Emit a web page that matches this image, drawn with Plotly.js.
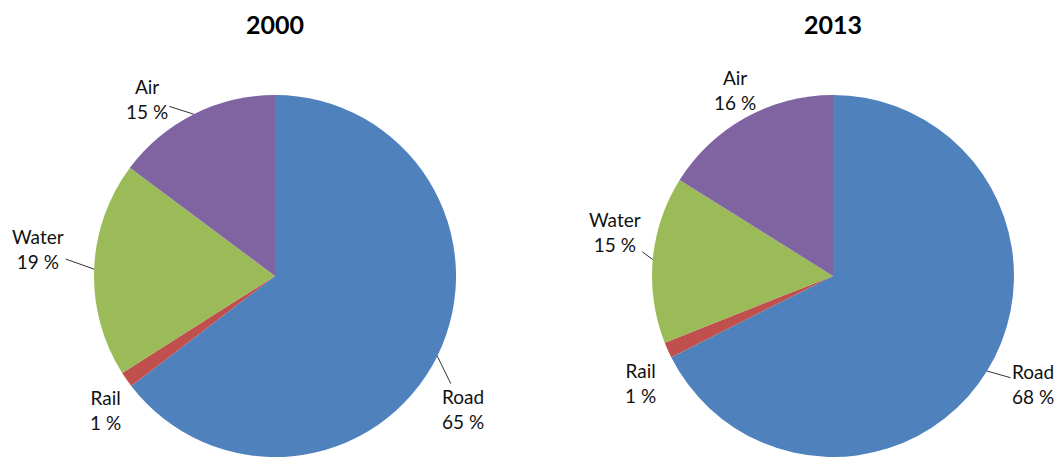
<!DOCTYPE html>
<html>
<head>
<meta charset="utf-8">
<script src="https://cdn.plot.ly/plotly-3.0.1.min.js"></script>
<style>html,body{margin:0;padding:0;background:#fff;}#chart{width:1056px;height:457px;}</style>
</head>
<body>
<div id="chart"></div>
<script>
// ---- data ----
const categories = ['Road', 'Rail', 'Water', 'Air'];
const years = ['2000', '2013'];
const share2000 = [64.6, 1.4, 19.2, 14.8];
const share2013 = [67.6, 1.4, 14.9, 16.1];

// ---- style ----
const colors = ['#4F81BD', '#C0504D', '#9BBB59', '#8064A2'];
const W = 1056, H = 457, R = 181;
const centersX = [275, 833];
const labelOffsets = [
  [[26, 53], [-21, 30], [-56, -20], [-47, -15]],
  [[46, 13], [-27, 33], [-38, -28], [-10, -28]]
];
const showLeader = [[true, false, true, true], [true, false, true, false]];
const FONT = 'Lato, "Open Sans", sans-serif';

const series = [share2000, share2013];
const traces = [];
const annotations = [];

series.forEach((vals, k) => {
  const cx = centersX[k];
  const cy = H - R; // from top
  traces.push({
    type: 'pie',
    labels: categories,
    values: vals,
    sort: false,
    direction: 'clockwise',
    rotation: 0,
    textinfo: 'none',
    hoverinfo: 'label+percent',
    marker: {colors: colors, line: {width: 0}},
    showlegend: false,
    domain: {x: [(cx - R) / W, (cx + R) / W], y: [0, (2 * R) / H]}
  });
  const total = vals.reduce((a, b) => a + b, 0);
  let cum = 0;
  vals.forEach((v, i) => {
    const mid = (cum + v / 2) / total * 2 * Math.PI;
    cum += v;
    const ex = cx + R * Math.sin(mid);
    const ey = cy - R * Math.cos(mid);
    const off = labelOffsets[k][i];
    annotations.push({
      xref: 'paper', yref: 'paper',
      x: ex / W, y: 1 - ey / H,
      ax: off[0], ay: off[1],
      text: categories[i] + '<br>' + Math.round(v / total * 100) + ' %',
      showarrow: true,
      arrowhead: 0,
      arrowwidth: 1,
      standoff: 0,
      arrowcolor: showLeader[k][i] ? '#333333' : 'rgba(0,0,0,0)',
      font: {family: FONT, size: 19, color: '#111111'},
      align: 'center'
    });
  });
  annotations.push({
    xref: 'paper', yref: 'paper',
    x: cx / W, y: 1 - 24 / H,
    xanchor: 'center', yanchor: 'middle',
    text: '<b>' + years[k] + '</b>',
    showarrow: false,
    font: {family: FONT, size: 25, color: '#000000'}
  });
});

const layout = {
  width: W, height: H,
  margin: {l: 0, r: 0, t: 0, b: 0},
  paper_bgcolor: '#ffffff',
  plot_bgcolor: '#ffffff',
  annotations: annotations
};

Plotly.newPlot('chart', traces, layout, {displayModeBar: false, staticPlot: true});
</script>
</body>
</html>
